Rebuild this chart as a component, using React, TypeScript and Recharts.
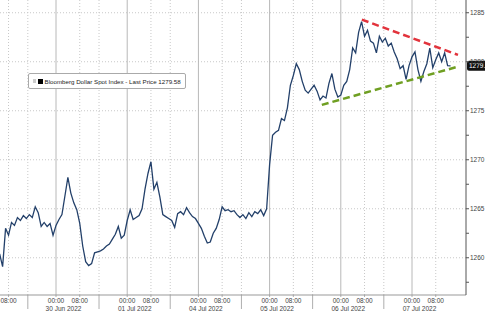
import { LineChart, Line, XAxis, YAxis, ReferenceLine } from 'recharts';

const seriesName = 'Bloomberg Dollar Spot Index - Last Price';
const lastPrice = 1279.58;

// x is in trading hours counted from 29 Jun 00:00 (the weekend is skipped)
const startHour = 5;
const prices = [
  1260.4, 1259.1, 1263.0, 1262.3, 1263.6, 1263.3, 1264.1, 1263.8, 1264.3, 1264.0,
  1264.4, 1264.1, 1265.2, 1264.6, 1263.2, 1263.6, 1263.2, 1263.5, 1262.3, 1263.3,
  1263.9, 1264.4, 1266.3, 1268.2, 1266.6, 1265.6, 1264.9, 1263.5, 1261.2, 1259.6,
  1259.2, 1259.4, 1260.5, 1260.6, 1260.7, 1260.9, 1261.2, 1261.4, 1261.9, 1262.4,
  1263.2, 1262.0, 1262.3, 1263.8, 1264.9, 1263.9, 1264.1, 1264.3, 1265.0, 1267.0,
  1268.6, 1269.8, 1267.0, 1267.7, 1266.2, 1264.4, 1264.2, 1264.0, 1263.8, 1263.1,
  1264.5, 1264.7, 1264.4, 1265.1, 1264.6, 1264.2, 1264.0, 1263.5, 1263.0, 1262.2,
  1261.5, 1261.6, 1262.5, 1263.0, 1263.9, 1265.2, 1264.8, 1264.9, 1264.7, 1264.8,
  1264.4, 1264.1, 1264.4, 1264.0, 1264.6, 1264.2, 1264.7, 1264.5, 1264.9, 1264.3,
  1265.0, 1269.5, 1272.5, 1272.8, 1273.0, 1274.2, 1274.0, 1275.3, 1277.6, 1278.6,
  1279.8, 1279.2, 1278.0, 1277.1, 1276.8, 1277.2, 1277.6, 1277.0, 1276.1, 1276.5,
  1276.3, 1277.8, 1278.8, 1277.2, 1276.4, 1276.6, 1277.6, 1278.0, 1279.2, 1281.4,
  1280.9, 1283.0, 1284.1, 1282.6, 1283.2, 1282.1, 1281.9, 1280.9, 1282.6, 1282.0,
  1282.4, 1281.6, 1281.9, 1281.0, 1280.3, 1279.3, 1279.6, 1278.2, 1279.6, 1280.5,
  1281.0, 1279.2, 1278.0, 1279.0, 1279.8, 1281.4, 1279.4, 1280.2, 1280.9, 1280.0,
  1280.9, 1279.6, 1279.58,
];

const dayLabels = ['29 Jun 2022', '30 Jun 2022', '01 Jul 2022', '04 Jul 2022', '05 Jul 2022', '06 Jul 2022', '07 Jul 2022'];
const hourTicks = [8, 24, 32, 48, 56, 72, 80, 96, 104, 120, 128, 144, 152];
const sessionBreaks = [14.5, 38.5, 62.5, 86.5, 110.5, 134.5];
const yTicks = [1257.5, 1260, 1262.5, 1265, 1267.5, 1270, 1272.5, 1275, 1277.5, 1280, 1282.5, 1285];
const yGrid = [1260, 1265, 1270, 1275, 1280, 1285];

const resistance = [{ x: 127.1, y: 1284.3 }, { x: 159.5, y: 1280.7 }];
const support = [{ x: 113.6, y: 1275.6 }, { x: 159.5, y: 1279.5 }];

const data = prices.map((v, i) => ({ t: startHour + i, value: v }));

const font = '"Liberation Sans", Arial, sans-serif';

const XTick = ({ x, y, payload }) => {
  const v = payload.value;
  if (sessionBreaks.includes(v)) {
    return <line x1={x} x2={x} y1={y} y2={y + 14} stroke="#999" strokeWidth={0.8} />;
  }
  const h = v % 24;
  const day = Math.floor(v / 24);
  return (
    <g>
      <line x1={x} x2={x} y1={y} y2={y + 2} stroke="#999" strokeWidth={0.8} />
      <text x={x} y={y + 8} textAnchor="middle" fontSize={6.5} fill="#444" fontFamily={font}>
        {h === 0 ? '00:00' : '08:00'}
      </text>
      {h === 0 && (
        <text x={x + 7.5} y={y + 15.5} textAnchor="middle" fontSize={6.5} fill="#444" fontFamily={font}>
          {dayLabels[day]}
        </text>
      )}
    </g>
  );
};

const YTick = ({ x, y, payload }) => {
  if (payload.value % 5 !== 0) return null;
  return (
    <text x={x} y={y + 2.3} fontSize={6.5} fill="#444" fontFamily={font}>
      {payload.value}
    </text>
  );
};

const LastPriceTag = ({ viewBox }) => {
  const x = viewBox.x + viewBox.width + 1;
  const y = viewBox.y;
  return (
    <g>
      <rect x={x} y={y - 5} width={24} height={10} rx={2} fill="#111" />
      <text x={x + 2} y={y + 2.3} fontSize={6.5} fill="#fff" fontFamily={font}>
        {lastPrice.toFixed(2)}
      </text>
    </g>
  );
};

const LegendBox = () => (
  <div
    style={{
      position: 'absolute',
      left: 28,
      top: 73,
      display: 'flex',
      alignItems: 'center',
      height: 14,
      padding: '0 4px',
      border: '1px solid #aaa',
      borderRadius: 2,
      background: '#fff',
      fontFamily: font,
      fontSize: 6.2,
      color: '#222',
      whiteSpace: 'nowrap',
    }}
  >
    <span style={{ width: 3, height: 4, background: '#ccc', marginRight: 1.5 }} />
    <span style={{ width: 5, height: 5, background: '#000', marginRight: 2 }} />
    <span>
      {seriesName} {lastPrice}
    </span>
  </div>
);

export default function App() {
  return (
    <div style={{ position: 'absolute', left: 0, top: 0, width: 485, height: 311, background: '#fff' }}>
      <LineChart width={485} height={311} data={data} margin={{ top: 0, right: 0, left: 0, bottom: 0 }}>
        <XAxis
          dataKey="t"
          type="number"
          domain={[5.12, 162.2]}
          ticks={[...hourTicks, ...sessionBreaks]}
          interval={0}
          height={16}
          tickSize={0}
          tickMargin={0}
          tickLine={false}
          axisLine={{ stroke: '#999' }}
          tick={<XTick />}
          allowDataOverflow
        />
        <YAxis
          orientation="right"
          width={19}
          domain={[1256.2, 1286.3]}
          ticks={yTicks}
          interval={0}
          tickSize={3}
          tickMargin={1}
          tickLine={{ stroke: '#555' }}
          axisLine={{ stroke: '#555' }}
          tick={<YTick />}
          allowDataOverflow
        />
        {yGrid.map((v) => (
          <ReferenceLine key={`gy${v}`} y={v} stroke="#c8c8c8" strokeDasharray="1 2" />
        ))}
        {sessionBreaks.map((v) => (
          <ReferenceLine key={`gs${v}`} x={v} stroke="#c8c8c8" strokeDasharray="1 2" />
        ))}
        {hourTicks.map((v) =>
          v % 24 === 0 ? (
            <ReferenceLine key={`gx${v}`} x={v} stroke="#b8b8b8" />
          ) : (
            <ReferenceLine key={`gx${v}`} x={v} stroke="#c8c8c8" strokeDasharray="1 2" />
          )
        )}
        <Line
          type="linear"
          dataKey="value"
          name={seriesName}
          stroke="#23406a"
          strokeWidth={1.3}
          dot={false}
          isAnimationActive={false}
        />
        <ReferenceLine segment={resistance} stroke="#e2333c" strokeWidth={2.5} strokeDasharray="7 4" />
        <ReferenceLine segment={support} stroke="#6f9f22" strokeWidth={2.5} strokeDasharray="7 4" />
        <ReferenceLine y={lastPrice} stroke="none" label={<LastPriceTag />} />
      </LineChart>
      <LegendBox />
    </div>
  );
}
